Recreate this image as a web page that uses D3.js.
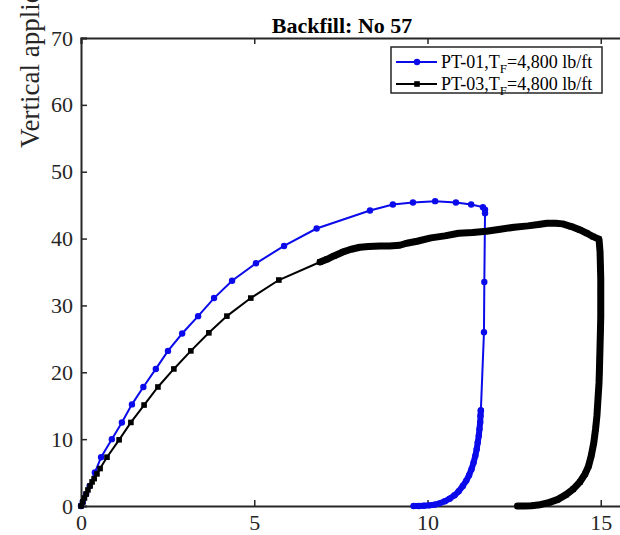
<!DOCTYPE html>
<html lang="en">
<head>
<meta charset="UTF-8">
<title>Backfill: No 57</title>
<script src="https://cdnjs.cloudflare.com/ajax/libs/d3/7.8.5/d3.min.js"></script>
<style>
  body { margin: 0; background: #fff; }
  svg text { font-family: "Liberation Serif", serif; }
</style>
</head>
<body>
<svg id="chart"></svg>
<script>
// PT-01 (blue, circles) - sparse loading branch
const pt01X = [0, 0.05, 0.15, 0.25, 0.4, 0.58, 0.89, 1.18, 1.47, 1.8, 2.16, 2.51, 2.92, 3.38, 3.84, 4.36, 5.05, 5.86, 6.8, 8.34, 9.0, 9.58, 10.22, 10.82, 11.26, 11.6, 11.66, 11.66, 11.64, 11.63, 11.54];
const pt01Y = [0, 0.6, 1.8, 3.0, 5.0, 7.3, 10, 12.5, 15.2, 17.8, 20.5, 23.2, 25.8, 28.4, 31.1, 33.7, 36.3, 38.9, 41.5, 44.2, 45.1, 45.4, 45.6, 45.4, 45.1, 44.7, 44.3, 43.8, 33.5, 26, 14.3];
// PT-01 unloading branch (closely spaced readings)
const pt01DenseX = [11.54, 11.53, 11.52, 11.5, 11.48, 11.45, 11.42, 11.38, 11.33, 11.27, 11.2, 11.12, 11.02, 10.9, 10.78, 10.64, 10.5, 10.35, 10.2, 10.05, 9.9, 9.75, 9.6];
const pt01DenseY = [14.3, 13.5, 12.5, 11.5, 10.5, 9.5, 8.5, 7.5, 6.5, 5.5, 4.6, 3.8, 3.0, 2.2, 1.6, 1.1, 0.7, 0.4, 0.2, 0.1, 0.05, 0, 0];

// PT-03 (black, squares) - sparse loading branch
const pt03X = [0, 0.05, 0.1, 0.15, 0.2, 0.26, 0.32, 0.38, 0.46, 0.55, 0.75, 1.1, 1.44, 1.82, 2.22, 2.68, 3.17, 3.69, 4.21, 4.9, 5.71, 6.9];
const pt03Y = [0, 0.6, 1.2, 1.8, 2.4, 3.0, 3.6, 4.1, 4.8, 5.6, 7.3, 9.9, 12.5, 15.1, 17.8, 20.5, 23.2, 25.9, 28.4, 31.1, 33.8, 36.5];
// PT-03 plateau and unloading branch (closely spaced readings)
const pt03DenseX = [6.9, 7.1, 7.3, 7.56, 7.8, 8.05, 8.3, 8.63, 8.9, 9.2, 9.4, 9.7, 10.1, 10.5, 10.9, 11.3, 11.7, 12.1, 12.5, 12.9, 13.2, 13.45, 13.7, 13.9, 14.15, 14.4, 14.6, 14.78, 14.95, 14.98, 14.99, 15.0, 15.0, 15.0, 15.0, 14.99, 14.98, 14.97, 14.96, 14.95, 14.92, 14.89, 14.85, 14.8, 14.73, 14.65, 14.55, 14.4, 14.2, 14.0, 13.75, 13.5, 13.25, 13.0, 12.8, 12.6];
const pt03DenseY = [36.5, 36.9, 37.4, 38, 38.4, 38.7, 38.8, 38.9, 38.9, 39, 39.3, 39.6, 40.1, 40.4, 40.8, 40.9, 41.1, 41.4, 41.7, 41.9, 42.1, 42.3, 42.3, 42.2, 41.8, 41.3, 40.8, 40.3, 39.9, 38, 36, 34, 32, 30, 28.3, 26, 24, 22, 20, 18.4, 16, 13.5, 11.5, 9.5, 7.6, 6, 4.8, 3.6, 2.5, 1.7, 0.95, 0.5, 0.2, 0.05, 0, 0];

const xTicks = [0, 5, 10, 15];
const yTicks = [0, 10, 20, 30, 40, 50, 60, 70];
const seriesNames = ["PT-01,T", "PT-03,T"];

const width = 620, height = 535;
const margin = { top: 38, left: 81, bottom: 29 };
const axisColor = "#262626";
const blue = "#0a0aeb";
const serif = "'Liberation Serif', 'Times New Roman', serif";

const x = d3.scaleLinear([0, 16], [margin.left, margin.left + 16 * 34.65]);
const y = d3.scaleLinear([0, 70], [height - margin.bottom, margin.top]);

const svg = d3.select("#chart").attr("width", width).attr("height", height);

const zip = (X, Y) => X.map((v, i) => [v, Y[i]]);
const line = d3.line().x(d => x(d[0])).y(d => y(d[1]));

// axes (MATLAB style, ticks inward)
svg.append("g")
    .attr("transform", `translate(0,${y(0)})`)
    .call(d3.axisBottom(x).tickValues(xTicks).tickSize(-6).tickPadding(8).tickFormat(d3.format("d")))
    .call(g => g.select(".domain").attr("stroke", axisColor).attr("stroke-width", 2))
    .call(g => g.selectAll(".tick line").attr("stroke", axisColor).attr("stroke-width", 1.5))
    .call(g => g.selectAll(".tick text").attr("fill", axisColor)
        .style("font-family", serif).style("font-size", "22px"));

svg.append("g")
    .attr("transform", `translate(0,${y(70)})`)
    .call(d3.axisTop(x).tickValues(xTicks).tickSize(-6).tickFormat(""))
    .call(g => g.select(".domain").attr("stroke", axisColor).attr("stroke-width", 2))
    .call(g => g.selectAll(".tick line").attr("stroke", axisColor).attr("stroke-width", 1.5));

svg.append("g")
    .attr("transform", `translate(${x(0)},0)`)
    .call(d3.axisLeft(y).tickValues(yTicks).tickSize(-6).tickPadding(8))
    .call(g => g.select(".domain").attr("stroke", axisColor).attr("stroke-width", 2))
    .call(g => g.selectAll(".tick line").attr("stroke", axisColor).attr("stroke-width", 1.5))
    .call(g => g.selectAll(".tick text").attr("fill", axisColor)
        .style("font-family", serif).style("font-size", "22px"));

// y label (cut at top of picture)
svg.append("text")
    .attr("transform", "translate(39,148) rotate(-90)")
    .attr("fill", axisColor)
    .style("font-family", serif).style("font-size", "27px")
    .text("Vertical applied load (kips)");

// title
svg.append("text")
    .attr("x", 342).attr("y", 33)
    .attr("text-anchor", "middle")
    .attr("fill", "#000")
    .style("font-family", serif).style("font-size", "22px").style("font-weight", "bold")
    .text("Backfill: No 57");

// PT-01
const b1 = zip(pt01X, pt01Y), b2 = zip(pt01DenseX, pt01DenseY);
svg.append("path").attr("d", line(b1)).attr("fill", "none").attr("stroke", blue).attr("stroke-width", 2);
svg.append("path").attr("d", line(b2)).attr("fill", "none").attr("stroke", blue)
    .attr("stroke-width", 6).attr("stroke-linecap", "round").attr("stroke-linejoin", "round");
svg.append("g").attr("fill", blue)
    .selectAll("circle").data(b1.concat(b2)).join("circle")
    .attr("cx", d => x(d[0])).attr("cy", d => y(d[1])).attr("r", 3.2);

// PT-03
const k1 = zip(pt03X, pt03Y), k2 = zip(pt03DenseX, pt03DenseY);
svg.append("path").attr("d", line(k1)).attr("fill", "none").attr("stroke", "#000").attr("stroke-width", 2);
svg.append("path").attr("d", line(k2)).attr("fill", "none").attr("stroke", "#000")
    .attr("stroke-width", 7).attr("stroke-linecap", "round").attr("stroke-linejoin", "round");
svg.append("g").attr("fill", "#000")
    .selectAll("rect").data(k1.concat(k2)).join("rect")
    .attr("x", d => x(d[0]) - 2.8).attr("y", d => y(d[1]) - 2.8)
    .attr("width", 5.6).attr("height", 5.6);

// legend
const lg = svg.append("g");
lg.append("rect").attr("x", 391).attr("y", 47).attr("width", 211).attr("height", 46)
    .attr("fill", "#fff").attr("stroke", axisColor).attr("stroke-width", 1.5);
const rows = [{ c: blue, m: "circle" }, { c: "#000", m: "rect" }];
rows.forEach((r, i) => {
    const cy = 62 + i * 22;
    lg.append("line").attr("x1", 396).attr("x2", 437).attr("y1", cy).attr("y2", cy)
        .attr("stroke", r.c).attr("stroke-width", 2);
    if (r.m === "circle") lg.append("circle").attr("cx", 417).attr("cy", cy).attr("r", 3.2).attr("fill", r.c);
    else lg.append("rect").attr("x", 414.2).attr("y", cy - 2.8).attr("width", 5.6).attr("height", 5.6).attr("fill", r.c);
    const t = lg.append("text").attr("x", 441).attr("y", cy + 6).attr("fill", "#000")
        .style("font-family", serif).style("font-size", "18px");
    t.append("tspan").text(seriesNames[i]);
    t.append("tspan").style("font-size", "13px").attr("dy", 5).text("F");
    t.append("tspan").attr("dy", -5).text("=4,800 lb/ft");
});
</script>
</body>
</html>
